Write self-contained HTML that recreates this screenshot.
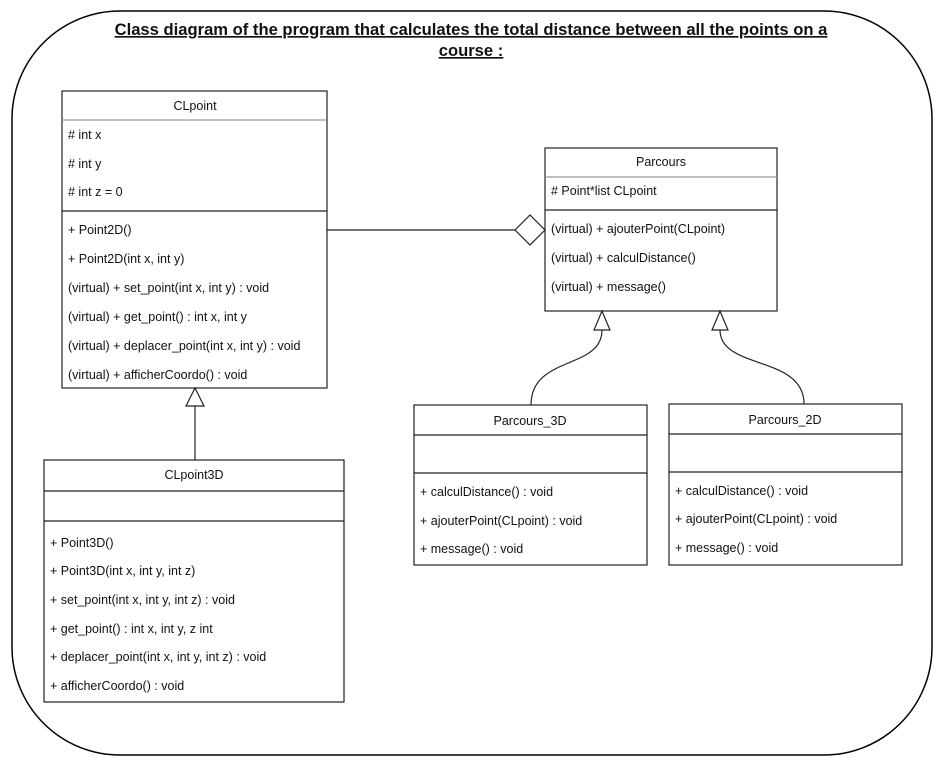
<!DOCTYPE html>
<html><head><style>
html,body{margin:0;padding:0;background:#fff;}
svg{display:block;font-family:"Liberation Sans",Arial,sans-serif;}
text{font-size:12.5px;fill:#111;}
</style></head><body>
<svg width="945" height="766" viewBox="0 0 945 766">
<rect x="12" y="11" width="920" height="744" rx="108" ry="108" fill="#fff" stroke="#000" stroke-width="1.5"/>
<text x="471" y="35" text-anchor="middle" style="font-size:16.6px;font-weight:bold;text-decoration:underline">Class diagram of the program that calculates the total distance between all the points on a</text>
<text x="471" y="56" text-anchor="middle" style="font-size:16.6px;font-weight:bold;text-decoration:underline">course :</text>
<g stroke="#222" stroke-width="1.2" fill="none">
<rect x="62" y="91" width="265" height="297"/>
<line x1="62" y1="120" x2="327" y2="120" stroke="#999"/>
<line x1="62" y1="211" x2="327" y2="211"/>
<rect x="44" y="460" width="300" height="242"/>
<line x1="44" y1="491" x2="344" y2="491"/>
<line x1="44" y1="521" x2="344" y2="521"/>
<rect x="545" y="148" width="232" height="163"/>
<line x1="545" y1="177" x2="777" y2="177" stroke="#999"/>
<line x1="545" y1="210" x2="777" y2="210"/>
<rect x="414" y="405" width="233" height="160"/>
<line x1="414" y1="435" x2="647" y2="435"/>
<line x1="414" y1="473" x2="647" y2="473"/>
<rect x="669" y="404" width="233" height="161"/>
<line x1="669" y1="434" x2="902" y2="434"/>
<line x1="669" y1="472" x2="902" y2="472"/>
<line x1="327" y1="230" x2="515" y2="230"/>
<polygon points="515,230 530,215 545,230 530,245" fill="#fff"/>
<line x1="195" y1="406" x2="195" y2="460"/>
<polygon points="195,388 186,406 204,406" fill="#fff"/>
<path d="M602 330 C602 370 531 355 531 405"/>
<polygon points="602,311 594,330 610,330" fill="#fff"/>
<path d="M720 330 C720 370 804 355 804 404"/>
<polygon points="720,311 712,330 728,330" fill="#fff"/>
</g>
<text x="195" y="110" text-anchor="middle">CLpoint</text>
<text x="68" y="139"># int x</text>
<text x="68" y="168"># int y</text>
<text x="68" y="196"># int z = 0</text>
<text x="68" y="234">+ Point2D()</text>
<text x="68" y="263">+ Point2D(int x, int y)</text>
<text x="68" y="292">(virtual) + set_point(int x, int y) : void</text>
<text x="68" y="321">(virtual) + get_point() : int x, int y</text>
<text x="68" y="350">(virtual) + deplacer_point(int x, int y) : void</text>
<text x="68" y="379">(virtual) + afficherCoordo() : void</text>
<text x="194" y="479" text-anchor="middle">CLpoint3D</text>
<text x="50" y="547">+ Point3D()</text>
<text x="50" y="575">+ Point3D(int x, int y, int z)</text>
<text x="50" y="604">+ set_point(int x, int y, int z) : void</text>
<text x="50" y="633">+ get_point() : int x, int y, z int</text>
<text x="50" y="661">+ deplacer_point(int x, int y, int z) : void</text>
<text x="50" y="690">+ afficherCoordo() : void</text>
<text x="661" y="166" text-anchor="middle">Parcours</text>
<text x="551" y="195"># Point*list CLpoint</text>
<text x="551" y="233">(virtual) + ajouterPoint(CLpoint)</text>
<text x="551" y="262">(virtual) + calculDistance()</text>
<text x="551" y="291">(virtual) + message()</text>
<text x="530" y="425" text-anchor="middle">Parcours_3D</text>
<text x="420" y="496">+ calculDistance() : void</text>
<text x="420" y="525">+ ajouterPoint(CLpoint) : void</text>
<text x="420" y="553">+ message() : void</text>
<text x="785" y="424" text-anchor="middle">Parcours_2D</text>
<text x="675" y="495">+ calculDistance() : void</text>
<text x="675" y="523">+ ajouterPoint(CLpoint) : void</text>
<text x="675" y="552">+ message() : void</text>
</svg>
</body></html>
